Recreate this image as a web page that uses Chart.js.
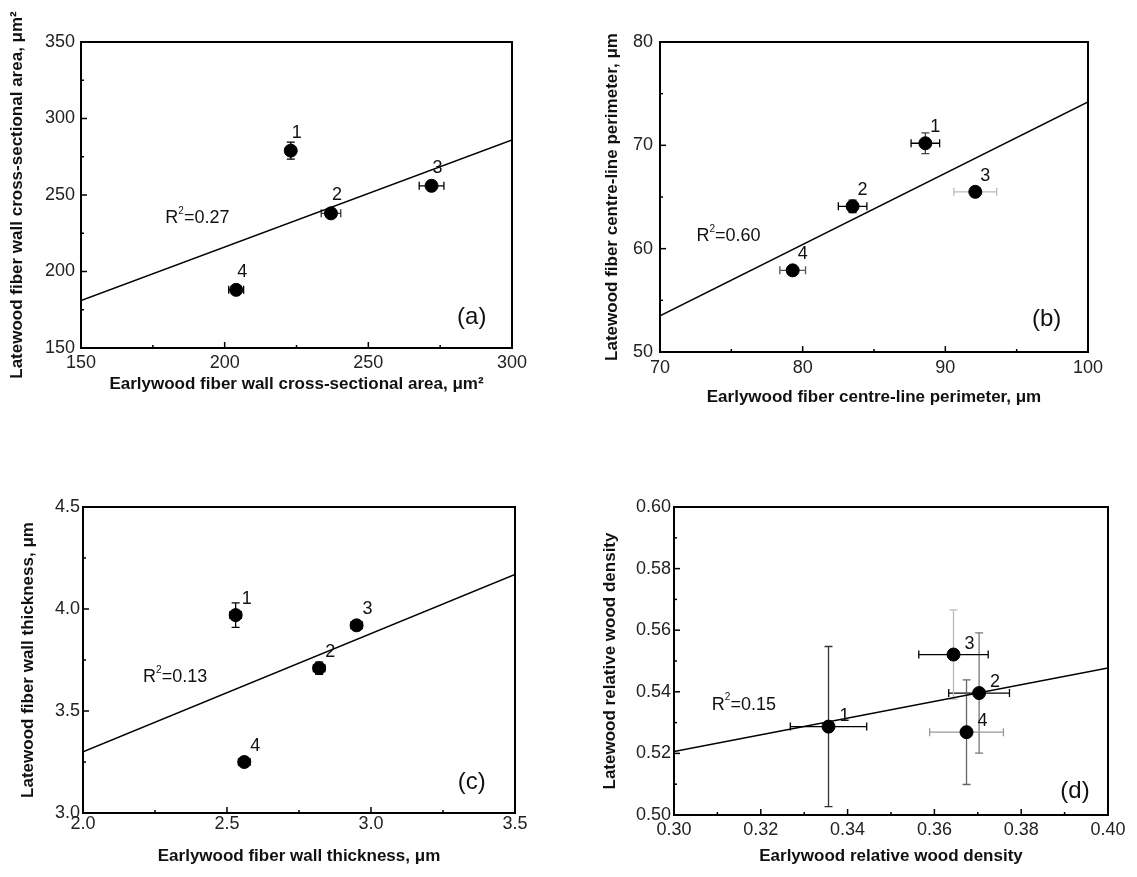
<!DOCTYPE html>
<html>
<head>
<meta charset="utf-8">
<script src="https://cdn.jsdelivr.net/npm/chart.js@4.4.1/dist/chart.umd.min.js"></script>
<style>
  body { margin: 0; background: #fff; }
  #wrap { position: relative; width: 1137px; height: 877px; }
  canvas { position: absolute; }
</style>
</head>
<body>
<div id="wrap">
  <canvas id="chartA" width="560" height="420" style="left:0;top:0"></canvas>
  <canvas id="chartB" width="569" height="420" style="left:568px;top:0"></canvas>
  <canvas id="chartC" width="560" height="437" style="left:0;top:440px"></canvas>
  <canvas id="chartD" width="569" height="437" style="left:568px;top:440px"></canvas>
</div>
<script>
// sample numbers shown next to each point
const sampleIds = ['1', '2', '3', '4'];

// (a) fiber wall cross-sectional area
const areaEarly = [223, 237, 272, 204];
const areaLate = [279, 238, 256, 188];
const areaEarlyErr = [1.5, 3.4, 4.3, 2.6];
const areaLateErr = [5.5, 2, 2, 2];
const areaFit = [181, 286];          // fit at x = 150 and x = 300
const areaXTicks = [150, 200, 250, 300];
const areaYTicks = [150, 200, 250, 300, 350];

// (b) fiber centre-line perimeter
const perimEarly = [88.6, 83.5, 92.1, 79.3];
const perimLate = [70.2, 64.1, 65.5, 57.9];
const perimEarlyErr = [1.0, 1.0, 1.5, 0.9];
const perimLateErr = [1.0, 0.6, 0.3, 0.3];
const perimFit = [53.5, 74.2];
const perimXTicks = [70, 80, 90, 100];
const perimYTicks = [50, 60, 70, 80];

// (c) fiber wall thickness
const thickEarly = [2.53, 2.82, 2.95, 2.56];
const thickLate = [3.97, 3.71, 3.92, 3.25];
const thickEarlyErr = [0.02, 0.02, 0.02, 0.02];
const thickLateErr = [0.06, 0.03, 0.02, 0.02];
const thickFit = [3.30, 4.17];
const thickXTicks = [2.0, 2.5, 3.0, 3.5];
const thickYTicks = [3.0, 3.5, 4.0, 4.5];

// (d) relative wood density
const densEarly = [0.3356, 0.3703, 0.3644, 0.3674];
const densLate = [0.5287, 0.5396, 0.5521, 0.5269];
const densEarlyErr = [0.0088, 0.007, 0.008, 0.0085];
const densLateErr = [0.026, 0.0195, 0.0145, 0.017];
const densFit = [0.5206, 0.5477];
const densXTicks = [0.30, 0.32, 0.34, 0.36, 0.38, 0.40];
const densYTicks = [0.50, 0.52, 0.54, 0.56, 0.58, 0.60];

const rSquared = ['0.27', '0.60', '0.13', '0.15'];

const FONT = '"Liberation Sans", Arial, Helvetica, sans-serif';

const panels = [
  {
    id: 'chartA', letter: '(a)', x: areaEarly, y: areaLate, ex: areaEarlyErr, ey: areaLateErr,
    fit: areaFit, r2: rSquared[0], xTicks: areaXTicks, yTicks: areaYTicks, dec: 0,
    xTitle: 'Earlywood fiber wall cross-sectional area, \u03bcm\u00b2',
    yTitle: 'Latewood fiber wall cross-sectional area, \u03bcm\u00b2',
    w: 560, h: 420, frame: { l: 81, t: 42, r: 512, b: 348 }, xH: 47,
    xLabPad: 4, yLabPad: 6, yTitlePad: 7,
    r2At: [190.5, 235], letterAt: [286, 170], numOff: [6, -18],
    exColor: ['#000', '#333', '#000', '#000'], eyColor: ['#000', '#000', '#000', '#000']
  },
  {
    id: 'chartB', letter: '(b)', x: perimEarly, y: perimLate, ex: perimEarlyErr, ey: perimLateErr,
    fit: perimFit, r2: rSquared[1], xTicks: perimXTicks, yTicks: perimYTicks, dec: 0,
    xTitle: 'Earlywood fiber centre-line perimeter, \u03bcm',
    yTitle: 'Latewood fiber centre-line perimeter, \u03bcm',
    w: 569, h: 420, frame: { l: 92, t: 42, r: 520, b: 352 }, xH: 56,
    xLabPad: 5, yLabPad: 7, yTitlePad: 34,
    r2At: [74.8, 61.2], letterAt: [97.1, 53.2], numOff: [10, -16],
    exColor: ['#000', '#000', '#bbb', '#555'], eyColor: ['#444', '#000', '#000', '#000']
  },
  {
    id: 'chartC', letter: '(c)', x: thickEarly, y: thickLate, ex: thickEarlyErr, ey: thickLateErr,
    fit: thickFit, r2: rSquared[2], xTicks: thickXTicks, yTicks: thickYTicks, dec: 1,
    xTitle: 'Earlywood fiber wall thickness, \u03bcm',
    yTitle: 'Latewood fiber wall thickness, \u03bcm',
    w: 560, h: 437, frame: { l: 83, t: 67, r: 515, b: 373 }, xH: 54,
    xLabPad: 0, yLabPad: 3, yTitlePad: 18,
    r2At: [2.32, 3.666], letterAt: [3.35, 3.148], numOff: [11, -16],
    exColor: ['#000', '#000', '#000', '#000'], eyColor: ['#000', '#000', '#000', '#000']
  },
  {
    id: 'chartD', letter: '(d)', x: densEarly, y: densLate, ex: densEarlyErr, ey: densLateErr,
    fit: densFit, r2: rSquared[3], xTicks: densXTicks, yTicks: densYTicks, dec: 2,
    xTitle: 'Earlywood relative wood density',
    yTitle: 'Latewood relative wood density',
    w: 569, h: 437, frame: { l: 106, t: 67, r: 540, b: 375 }, xH: 52,
    xLabPad: 4, yLabPad: 3, yTitlePad: 32,
    r2At: [0.3161, 0.5358], letterAt: [0.3924, 0.5076], numOff: [16, -11],
    exColor: ['#000', '#000', '#000', '#999'], eyColor: ['#333', '#777', '#bbb', '#666']
  }
];

function drawR2(ctx, cx, cy, val) {
  const big = '18px ' + FONT, small = '10px ' + FONT;
  ctx.font = big;
  const wR = ctx.measureText('R').width;
  const wRest = ctx.measureText('=' + val).width;
  ctx.font = small;
  const w2 = ctx.measureText('2').width;
  let x = cx - (wR + w2 + wRest) / 2;
  ctx.textAlign = 'left';
  ctx.textBaseline = 'middle';
  ctx.font = big; ctx.fillText('R', x, cy); x += wR;
  ctx.font = small; ctx.fillText('2', x, cy - 7); x += w2;
  ctx.font = big; ctx.fillText('=' + val, x, cy);
}

function makeExtras(p) {
  return {
    id: 'panelExtras',
    beforeDatasetsDraw(chart) {
      const ctx = chart.ctx, xs = chart.scales.x, ys = chart.scales.y;
      const cap = 4;
      ctx.save();
      ctx.lineWidth = 1.3;
      p.x.forEach((v, i) => {
        const px = xs.getPixelForValue(v), py = ys.getPixelForValue(p.y[i]);
        const x0 = xs.getPixelForValue(v - p.ex[i]), x1 = xs.getPixelForValue(v + p.ex[i]);
        const y0 = ys.getPixelForValue(p.y[i] - p.ey[i]), y1 = ys.getPixelForValue(p.y[i] + p.ey[i]);
        ctx.strokeStyle = p.exColor[i];
        ctx.beginPath();
        ctx.moveTo(x0, py); ctx.lineTo(x1, py);
        ctx.moveTo(x0, py - cap); ctx.lineTo(x0, py + cap);
        ctx.moveTo(x1, py - cap); ctx.lineTo(x1, py + cap);
        ctx.stroke();
        ctx.strokeStyle = p.eyColor[i];
        ctx.beginPath();
        ctx.moveTo(px, y0); ctx.lineTo(px, y1);
        ctx.moveTo(px - cap, y0); ctx.lineTo(px + cap, y0);
        ctx.moveTo(px - cap, y1); ctx.lineTo(px + cap, y1);
        ctx.stroke();
      });
      ctx.restore();
    },
    afterDatasetsDraw(chart) {
      const ctx = chart.ctx, xs = chart.scales.x, ys = chart.scales.y;
      ctx.save();
      ctx.fillStyle = '#111';
      ctx.font = '18px ' + FONT;
      ctx.textAlign = 'center';
      ctx.textBaseline = 'middle';
      p.x.forEach((v, i) => {
        ctx.fillText(sampleIds[i], xs.getPixelForValue(v) + p.numOff[0], ys.getPixelForValue(p.y[i]) + p.numOff[1]);
      });
      drawR2(ctx, xs.getPixelForValue(p.r2At[0]), ys.getPixelForValue(p.r2At[1]), p.r2);
      ctx.font = '24px ' + FONT;
      ctx.textAlign = 'center';
      ctx.fillText(p.letter, xs.getPixelForValue(p.letterAt[0]), ys.getPixelForValue(p.letterAt[1]));
      ctx.restore();
    },
    afterDraw(chart) {
      const ctx = chart.ctx, a = chart.chartArea, xs = chart.scales.x, ys = chart.scales.y;
      ctx.save();
      ctx.strokeStyle = '#000';
      ctx.lineWidth = 1.5;
      // inside ticks, major on labels and minor halfway between
      const drawTicks = (arr, isX) => {
        arr.forEach((v, i) => {
          const marks = [[v, 6]];
          if (i < arr.length - 1) marks.push([(v + arr[i + 1]) / 2, 3]);
          marks.forEach(([val, len]) => {
            ctx.beginPath();
            if (isX) {
              const px = xs.getPixelForValue(val);
              ctx.moveTo(px, a.bottom); ctx.lineTo(px, a.bottom - len);
            } else {
              const py = ys.getPixelForValue(val);
              ctx.moveTo(a.left, py); ctx.lineTo(a.left + len, py);
            }
            ctx.stroke();
          });
        });
      };
      drawTicks(p.xTicks, true);
      drawTicks(p.yTicks, false);
      ctx.lineWidth = 2;
      ctx.strokeRect(a.left, a.top, a.right - a.left, a.bottom - a.top);
      ctx.restore();
    }
  };
}

panels.forEach(p => {
  const xMin = p.xTicks[0], xMax = p.xTicks[p.xTicks.length - 1];
  const yMin = p.yTicks[0], yMax = p.yTicks[p.yTicks.length - 1];
  const tickFont = { family: FONT, size: 18 };
  const titleFont = { family: FONT, size: 17, weight: 'bold' };
  new Chart(document.getElementById(p.id), {
    type: 'scatter',
    data: {
      datasets: [
        {
          data: p.x.map((v, i) => ({ x: v, y: p.y[i] })),
          backgroundColor: '#000',
          borderColor: '#000',
          pointRadius: 6.5,
          pointHoverRadius: 6.5
        },
        {
          type: 'line',
          data: [{ x: xMin, y: p.fit[0] }, { x: xMax, y: p.fit[1] }],
          borderColor: '#000',
          borderWidth: 1.5,
          pointRadius: 0,
          fill: false
        }
      ]
    },
    options: {
      responsive: false,
      animation: false,
      devicePixelRatio: 1,
      layout: {
        padding: { left: 0, top: p.frame.t, right: p.w - p.frame.r, bottom: p.h - p.frame.b - p.xH }
      },
      plugins: { legend: { display: false }, tooltip: { enabled: false } },
      scales: {
        x: {
          type: 'linear', min: xMin, max: xMax,
          grid: { display: false, drawTicks: false },
          border: { display: false },
          ticks: {
            font: tickFont, color: '#222', padding: p.xLabPad,
            autoSkip: false, maxRotation: 0, minRotation: 0,
            callback: v => Number(v).toFixed(p.dec)
          },
          title: { display: true, text: p.xTitle, font: titleFont, color: '#111', padding: { top: 0, bottom: 0 } },
          afterBuildTicks: s => { s.ticks = p.xTicks.map(v => ({ value: v })); },
          afterFit: s => { s.height = p.xH; }
        },
        y: {
          type: 'linear', min: yMin, max: yMax,
          grid: { display: false, drawTicks: false },
          border: { display: false },
          ticks: {
            font: tickFont, color: '#222', padding: p.yLabPad,
            autoSkip: false,
            callback: v => Number(v).toFixed(p.dec)
          },
          title: { display: true, text: p.yTitle, font: titleFont, color: '#111', padding: { top: p.yTitlePad, bottom: 0 } },
          afterBuildTicks: s => { s.ticks = p.yTicks.map(v => ({ value: v })); },
          afterFit: s => { s.width = p.frame.l; }
        }
      }
    },
    plugins: [makeExtras(p)]
  });
});
</script>
</body>
</html>
